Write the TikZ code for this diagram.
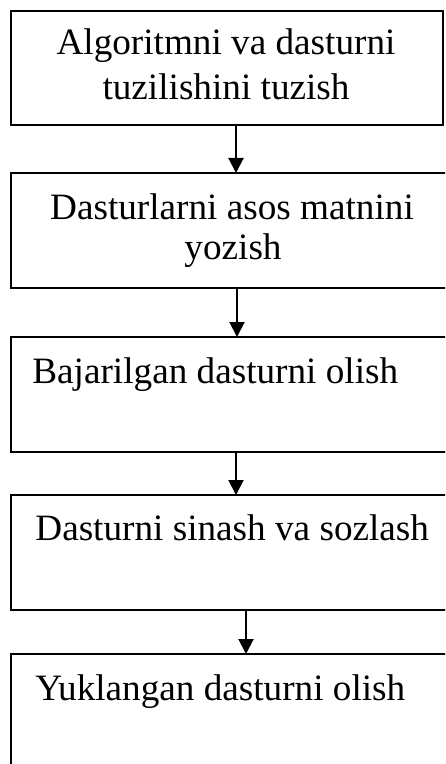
\documentclass[tikz,border=0pt]{standalone}
\usepackage{fontspec}
\setmainfont{Liberation Serif}
\usetikzlibrary{arrows.meta,calc}
\begin{document}
\begin{tikzpicture}[x=0.5pt,y=-0.5pt,
  stepbox/.style={draw,line width=1pt,rectangle,inner sep=0pt,outer sep=0pt,anchor=north west},
  label/.style={inner sep=0pt,font=\fontsize{18.6pt}{20pt}\selectfont},
  flow/.style={line width=1pt,-{Triangle[width=7.5pt,length=7.5pt]}}]
\useasboundingbox (0,0) rectangle (445,764);
\clip (0,0) rectangle (445,764);
% boxes (the lower four run past the right edge)
\node[stepbox,minimum width=216pt,minimum height=57pt] (b1) at (11,11) {};
\node[stepbox,minimum width=260pt,minimum height=57.5pt] (b2) at (11,173) {};
\node[stepbox,minimum width=260pt,minimum height=57.5pt] (b3) at (11,337) {};
\node[stepbox,minimum width=260pt,minimum height=57.5pt] (b4) at (11,495) {};
\node[stepbox,minimum width=260pt,minimum height=80pt] (b5) at (11,654) {};
% texts
\node[label,anchor=base] (t1a) at (226,55) {Algoritmni va dasturni};
\node[label,anchor=base] (t1b) at (226,100) {tuzilishini tuzish};
\node[label,anchor=base] (t2a) at (232,220) {Dasturlarni asos matnini};
\node[label,anchor=base] (t2b) at (233,260) {yozish};
\node[label,anchor=base west] (t3) at (32,383) {Bajarilgan dasturni olish};
\node[label,anchor=base west] (t4) at (35,540) {Dasturni sinash va sozlash};
\node[label,anchor=base west] (t5) at (35,700) {Yuklangan dasturni olish};
% connectors
\draw[flow] ($(b1.south west)+(225,0)$) -- ($(b2.north west)+(225,0)$);
\draw[flow] ($(b2.south west)+(226,0)$) -- ($(b3.north west)+(226,0)$);
\draw[flow] ($(b3.south west)+(225,0)$) -- ($(b4.north west)+(225,0)$);
\draw[flow] ($(b4.south west)+(235,0)$) -- ($(b5.north west)+(235,0)$);
\end{tikzpicture}
\end{document}
